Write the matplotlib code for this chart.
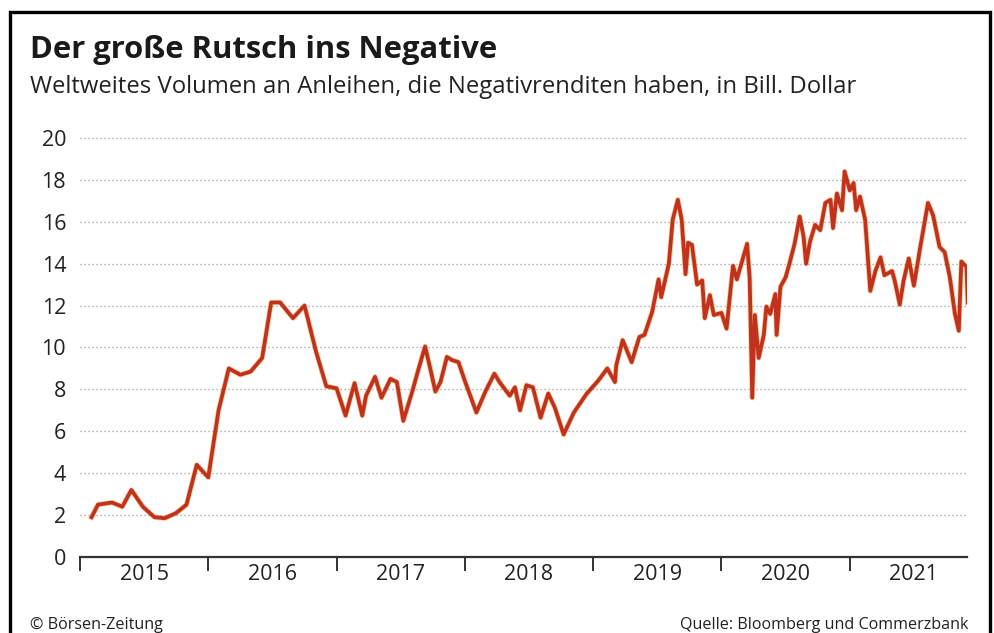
import matplotlib
matplotlib.use("Agg")
import matplotlib.pyplot as plt
from matplotlib.patches import Rectangle

# Weltweites Volumen negativ rentierender Anleihen (Bill. Dollar), Zeitpunkt als Dezimaljahr
dates = [
    2015.09, 2015.14, 2015.25, 2015.33, 2015.40, 2015.49, 2015.58, 2015.66, 2015.75, 2015.83,
    2015.91, 2016.00, 2016.08, 2016.16, 2016.25, 2016.33, 2016.42, 2016.49, 2016.56, 2016.66,
    2016.75, 2016.84, 2016.92, 2017.00, 2017.07, 2017.14, 2017.20, 2017.23, 2017.30, 2017.35,
    2017.42, 2017.47, 2017.52, 2017.59, 2017.64, 2017.69, 2017.73, 2017.77, 2017.81, 2017.86,
    2017.90, 2017.95, 2018.00, 2018.09, 2018.16, 2018.23, 2018.27, 2018.35, 2018.39, 2018.43,
    2018.48, 2018.53, 2018.59, 2018.65, 2018.70, 2018.77, 2018.85, 2018.95, 2019.03, 2019.05,
    2019.11, 2019.17, 2019.18, 2019.23, 2019.30, 2019.36, 2019.40, 2019.46, 2019.51, 2019.53,
    2019.59, 2019.62, 2019.66, 2019.69, 2019.72, 2019.74, 2019.77, 2019.81, 2019.85, 2019.87,
    2019.91, 2019.94, 2020.00, 2020.04, 2020.09, 2020.12, 2020.20, 2020.22, 2020.24, 2020.26,
    2020.29, 2020.33, 2020.35, 2020.38, 2020.42, 2020.43, 2020.46, 2020.50, 2020.53, 2020.57,
    2020.61, 2020.64, 2020.66, 2020.69, 2020.73, 2020.77, 2020.81, 2020.85, 2020.87, 2020.90,
    2020.94, 2020.96, 2021.00, 2021.03, 2021.05, 2021.08, 2021.12, 2021.16, 2021.20, 2021.24,
    2021.27, 2021.33, 2021.35, 2021.39, 2021.42, 2021.46, 2021.50, 2021.55, 2021.61, 2021.65,
    2021.70, 2021.74, 2021.78, 2021.82, 2021.85, 2021.87, 2021.91, 2021.92,
]
volume = [
    1.9, 2.5, 2.6, 2.4, 3.2, 2.4, 1.9, 1.85, 2.1, 2.5,
    4.4, 3.8, 7.0, 9.0, 8.7, 8.85, 9.5, 12.15, 12.15, 11.4,
    12.0, 9.8, 8.15, 8.05, 6.75, 8.3, 6.75, 7.7, 8.6, 7.6,
    8.5, 8.35, 6.5, 7.9, 9.0, 10.05, 9.0, 7.9, 8.35, 9.55,
    9.4, 9.3, 8.4, 6.9, 7.9, 8.75, 8.35, 7.7, 8.1, 7.0,
    8.2, 8.1, 6.65, 7.8, 7.15, 5.85, 6.9, 7.8, 8.35, 8.5,
    9.0, 8.35, 9.15, 10.35, 9.3, 10.5, 10.6, 11.7, 13.25, 12.4,
    14.0, 16.1, 17.05, 16.1, 13.5, 15.0, 14.9, 13.0, 13.2, 11.4,
    12.5, 11.55, 11.65, 10.9, 13.9, 13.25, 14.95, 13.3, 7.6, 11.55,
    9.5, 10.6, 11.95, 11.6, 12.55, 10.6, 12.9, 13.35, 14.0, 14.95,
    16.25, 15.3, 14.0, 15.05, 15.85, 15.6, 16.9, 17.05, 15.7, 17.35,
    16.55, 18.4, 17.5, 17.85, 16.55, 17.2, 16.1, 12.7, 13.65, 14.3,
    13.45, 13.65, 13.2, 12.05, 13.2, 14.25, 12.95, 14.8, 16.9, 16.3,
    14.8, 14.55, 13.35, 11.6, 10.8, 14.1, 13.85, 12.15,
]

years = [2015, 2016, 2017, 2018, 2019, 2020, 2021]
y_ticks = [0, 2, 4, 6, 8, 10, 12, 14, 16, 18, 20]

title = "Der große Rutsch ins Negative"
subtitle = "Weltweites Volumen an Anleihen, die Negativrenditen haben, in Bill. Dollar"
credit = "© Börsen-Zeitung"
source = "Quelle: Bloomberg und Commerzbank"

plt.rcParams["font.family"] = ["Open Sans", "DejaVu Sans"]

W, H = 994, 633
fig = plt.figure(figsize=(W / 100, H / 100), dpi=100)
fig.patch.set_facecolor("white")

# axes box in pixel terms
left_px, right_px, bottom_px, top_px = 80, 967, 557, 131.7
ax = fig.add_axes([left_px / W, 1 - bottom_px / H,
                   (right_px - left_px) / W, (bottom_px - top_px) / H])
ax.set_xlim(2015.0, 2021.914)
ax.set_ylim(0, 20.3)

text_col = "#222222"
grid_col = "#9a9a9a"

# dotted horizontal grid
for v in y_ticks[1:]:
    ax.axhline(v, color=grid_col, lw=0.9, ls=(0, (1, 2.2)), zorder=1)

# data line with a faint warm edge
ax.plot(dates, volume, color="#ee9440", lw=3.9, alpha=0.45, zorder=2,
        solid_joinstyle="round")
ax.plot(dates, volume, color="#c0321c", lw=2.7, zorder=3, solid_joinstyle="round")

for s in ["top", "right", "left"]:
    ax.spines[s].set_visible(False)
ax.spines["bottom"].set_color("#333333")
ax.spines["bottom"].set_linewidth(1.6)

ax.set_yticks(y_ticks)
ax.set_yticklabels([str(v) for v in y_ticks], fontsize=15.5, color=text_col)
ax.tick_params(axis="y", length=0, pad=10)

ax.set_xticks(years)
ax.set_xticklabels([])
ax.tick_params(axis="x", which="major", direction="out", length=10, width=1.4,
               color="#333333")
ax.set_xticks([y + 0.5 for y in years], minor=True)
ax.set_xticklabels([str(y) for y in years], minor=True, fontsize=15.5, color=text_col)
ax.tick_params(axis="x", which="minor", length=0, pad=5)

# heading
fig.text(30 / W, 1 - 58 / H, title, fontsize=22.3, fontweight="bold",
         color="#1a1a1a", ha="left", va="baseline")
fig.text(30 / W, 1 - 93 / H, subtitle, fontsize=17.2, color=text_col,
         ha="left", va="baseline")

# footer
fig.text(30 / W, 1 - 629 / H, credit, fontsize=11.6, color=text_col,
         ha="left", va="baseline")
fig.text(968 / W, 1 - 629 / H, source, fontsize=11.6, color=text_col,
         ha="right", va="baseline")

# outer frame (open at the bottom edge)
fig.patches.append(Rectangle((10 / W, -0.05), 980 / W, 1 - 12 / H + 0.05,
                             transform=fig.transFigure, fill=False,
                             edgecolor="black", lw=2.4, zorder=10))

fig.savefig("out.png", dpi=100, facecolor="white")
